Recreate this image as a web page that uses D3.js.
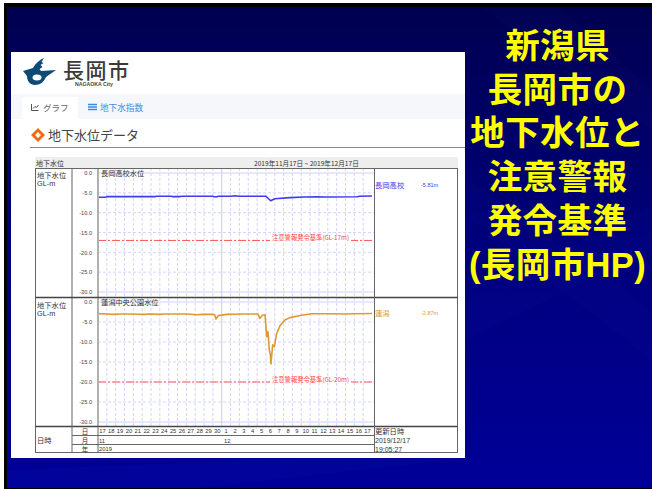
<!DOCTYPE html>
<html><head><meta charset="utf-8">
<script src="https://cdn.jsdelivr.net/npm/d3@7/dist/d3.min.js"></script>
<style>html,body{margin:0;padding:0;background:#fff}svg{display:block}
text{font-family:"Noto Sans CJK JP","Noto Sans",sans-serif}</style></head><body>
<svg id="c" width="652" height="490"></svg>
<script>
const titleLines=["新潟県","長岡市の","地下水位と","注意警報","発令基準","(長岡市HP)"];
const dayLabels=[17,18,19,20,21,22,23,24,25,26,27,28,29,30,1,2,3,4,5,6,7,8,9,10,11,12,13,14,15,16,17];
const yTicks=[0,-5,-10,-15,-20,-25,-30];
const blueDays=[0,0.9,1,6.5,6.6,8.3,8.4,9.3,9.4,13,13.1,13.5,13.6,15.1,15.5,15.9,19,19.53,20,21.7,23.4,24.8,25.6,26.2,29.3,29.6,31];
const blueLevels=[-6.1,-6.1,-5.95,-5.95,-5.85,-5.85,-5.95,-5.95,-5.85,-5.85,-6,-6,-5.85,-5.85,-5.75,-5.85,-5.85,-7,-6.5,-6.2,-6.05,-5.98,-6.05,-6.05,-5.98,-5.85,-5.81];
const orangeDays=[0,1,1.8,2.5,3.5,4.5,5.2,6,6.8,7.5,8.5,9.5,10.5,11,12,12.9,13.2,13.35,13.6,14.55,15.5,16.5,17.5,18.1,18.3,18.6,18.9,19.08,19.23,19.38,19.5,19.57,19.65,19.76,19.95,20.2,20.6,21.15,21.7,23,24.2,26,28,29,31];
const orangeLevels=[-2.9,-3,-3.1,-3,-3,-3.05,-3.1,-3,-3.1,-3,-3,-3,-3.05,-3.2,-3.1,-3.05,-3.2,-4.25,-3.4,-3.1,-3.05,-3,-3,-3,-4.1,-3.3,-3.2,-8.7,-7.4,-12,-13.2,-15.5,-13.5,-10.7,-11.2,-8,-5.9,-4.5,-3.9,-3.3,-2.95,-2.95,-3,-2.95,-2.87];
const blueLimit=-17, orangeLimit=-20;

const svg=d3.select("#c");
const defs=svg.append("defs");
const g=defs.append("linearGradient").attr("id","bg").attr("x1",0).attr("y1",0).attr("x2",0).attr("y2",1);
g.append("stop").attr("offset",0).attr("stop-color","#000050");
g.append("stop").attr("offset",.5).attr("stop-color","#00007c");
g.append("stop").attr("offset",1).attr("stop-color","#000098");
svg.append("rect").attr("x",4).attr("y",3).attr("width",648).attr("height",486).attr("fill","#000");
svg.append("rect").attr("x",7).attr("y",7).attr("width",645).attr("height",481).attr("fill","url(#bg)");
[["M480,7L560,7L652,90L652,130Z",.025],["M470,180L470,220L652,360L652,310Z",.025],["M7,470L7,488L200,488L465,458L300,458Z",.03],["M465,300L465,340L652,250L652,205Z",.02]].forEach(d=>
 svg.append("path").attr("d",d[0]).attr("fill","#4060ff").attr("opacity",d[1]));

// title
const title=svg.append("g").attr("text-anchor","middle").attr("fill","#ffff00").attr("font-weight",700).attr("font-size",34.5);
title.selectAll("text").data(titleLines).join("text").attr("x",557.5).attr("y",(d,i)=>58+i*43.7)
 .style("font-family",'"Liberation Sans","Noto Sans CJK JP"').style("letter-spacing","0.4px").text(d=>d);

// page panel
svg.append("rect").attr("x",11).attr("y",52).attr("width",454).attr("height",406).attr("fill","#fff");
svg.append("rect").attr("x",11).attr("y",94).attr("width",454).attr("height",25).attr("fill","#f6f7fb");
svg.append("rect").attr("x",22).attr("y",97).attr("width",56).attr("height",22).attr("fill","#fff");
svg.append("path").attr("d","M23,71L33,68C36,63 39,60 44,58L41.500,62L43.500,63L40.500,65L42.500,67L39.500,69L41,71L56,70L46,77C44,82 40,85 35,85C30,85 27,81 27,76Z").attr("fill","#0e4a78");
svg.append("ellipse").attr("cx",37).attr("cy",77.500).attr("rx",4.500).attr("ry",3).attr("fill","#fff");
const T=(x,y,s,size,fill,extra={})=>{const t=svg.append("text").attr("x",x).attr("y",y).attr("font-size",size).attr("fill",fill).attr("dominant-baseline","central").text(s);
 Object.entries(extra).forEach(([k,v])=>t.attr(k,v));return t;};
T(63,68.500,"長岡市",21,"#3a3a3a",{"font-weight":500}).style("letter-spacing","1.5px");
T(75,84,"NAGAOKA City",5.200,"#444",{"font-weight":700}).style("font-family","Liberation Sans");
svg.append("path").attr("d","M31.500,104V110.500H38.500M33,108.500L35,106.500L36.500,107.500L38.500,105").attr("fill","none").attr("stroke","#555").attr("stroke-width",1);
T(43,107,"グラフ",8.500,"#666");
svg.append("path").attr("d","M88,104.500H97M88,107H97M88,109.500H97").attr("stroke","#3b8de0").attr("stroke-width",1.300);
T(100,107,"地下水指数",8.600,"#3b8de0");
svg.append("path").attr("d","M38,128L45,135L38,142L31,135Z M38,132L35,135L38,138L41,135Z").attr("fill","#f26a10").attr("fill-rule","evenodd");
T(48,134.500,"地下水位データ",13,"#444");
svg.append("line").attr("x1",30).attr("x2",465).attr("y1",147.500).attr("y2",147.500).attr("stroke","#888");

// frame
const L=35.500,A=72,P=98,R=374,E=457.500,x=d3.scaleLinear().domain([0,31]).range([P,372]);
svg.append("rect").attr("x",35).attr("y",157).attr("width",423).attr("height",11).attr("fill","#eeeeee");
T(36,163,"地下水位",7,"#333");
T(254,163,"2019年11月17日 ~ 2019年12月17日",6.600,"#333");

function panel(top,bottom,y0,y30,name,days,levels,limit,color,site,val,siteY,limitText,labelY){
 const y=d3.scaleLinear().domain([0,-30]).range([y0,y30]);
 const G=svg.append("g");
 const grid=G.append("g").attr("fill","none");
 grid.selectAll(".v").data(d3.range(1,31)).join("line").attr("x1",x).attr("x2",x).attr("y1",top).attr("y2",bottom)
  .attr("stroke",d=>d===14?"#c8c8ff":"#d4d4ff").attr("stroke-dasharray",d=>d===14?null:"3,2");
 grid.selectAll(".h").data(yTicks).join("line").attr("x1",P).attr("x2",R).attr("y1",y).attr("y2",y)
  .attr("stroke",d=>d===0||d===-30?"#d0d0ff":"#d4d4ff").attr("stroke-dasharray",d=>d===0||d===-30?null:"3,2");
 G.append("line").attr("x1",P).attr("x2",R).attr("y1",y(limit)).attr("y2",y(limit)).attr("stroke","#ff5555").attr("stroke-dasharray","8,2,2,2");
 const lt=T(272,y(limit)-3,limitText,6.300,"#ff4444");
 const bb=lt.node().getBBox();
 G.append("rect").attr("x",270).attr("y",y(limit)-2).attr("width",bb.width+4).attr("height",3).attr("fill","#fff");
 lt.raise();
 const line=d3.line().x((d,i)=>x(days[i])).y(d=>y(d));
 G.append("path").attr("d",line(levels)).attr("fill","none").attr("stroke",color).attr("stroke-width",1.600).attr("stroke-linejoin","round");
 const ax=d3.axisLeft(y).tickValues(yTicks).tickSize(0).tickPadding(0).tickFormat(d=>d===0?"0.0":"-"+Math.abs(d).toFixed(1));
 const ag=svg.append("g").attr("transform",`translate(92,0)`).call(ax);
 ag.select(".domain").remove();
 ag.selectAll("text").attr("font-size",5.600).attr("fill","#444").style("font-family","Liberation Sans");
 T(101,labelY,name,7.200,"#333");
 T(37,top+7,"地下水位",7.300,"#333");
 T(37,top+15,"GL-m",7.300,"#333").style("font-family","Liberation Sans");
 T(375,siteY,site,7.300,color);
 T(421,siteY,val,5.500,color).style("font-family","Liberation Sans");
 [A,P].forEach(v=>svg.append("line").attr("x1",v).attr("x2",v).attr("y1",top).attr("y2",bottom).attr("stroke","#b0b0b0").attr("stroke-width",2));
}
panel(168,297,173,292,"長岡高校水位",blueDays,blueLevels,blueLimit,"#3c3cec","長岡高校","-5.81m",185,"注意警報発令基準(GL-17m)",173);
panel(298,426,302,422,"蓮潟中央公園水位",orangeDays,orangeLevels,orangeLimit,"#db9a32","蓮潟","-2.87m",313,"注意警報発令基準(GL-20m)",302);

const st="#666";
const ln=(x1,y1,x2,y2,w=1,c=st)=>svg.append("line").attr("x1",x1).attr("y1",y1).attr("x2",x2).attr("y2",y2).attr("stroke",c).attr("stroke-width",w);
svg.append("rect").attr("x",L).attr("y",168.500).attr("width",E-L).attr("height",284).attr("fill","none").attr("stroke",st);
ln(L,297.500,E,297.500,1.600,"#444");ln(L,426.500,E,426.500,1.600,"#444");
ln(R+.5,168,R+.5,453);ln(A,426,A,453);ln(P,426,P,453,1);
ln(A,435.500,R,435.500);ln(A,444.500,R,444.500);
T(37,440,"日時",7.300,"#333");
[["日",431],["月",440],["年",449]].forEach(d=>T(85,d[1],d[0],6.500,"#333",{"text-anchor":"middle"}));
svg.append("g").selectAll("text").data(dayLabels).join("text").attr("x",(d,i)=>x(i+.5)).attr("y",431).attr("text-anchor","middle").attr("dominant-baseline","central")
 .attr("font-size",5.800).attr("fill","#333").style("font-family","Liberation Sans").text(d=>d);
T(99,440.500,"11",5.800,"#333").style("font-family","Liberation Sans");
T(224,440.500,"12",5.800,"#333").style("font-family","Liberation Sans");
T(99,449,"2019",5.800,"#333").style("font-family","Liberation Sans");
T(375,431,"更新日時",7.300,"#333");
T(375,440.500,"2019/12/17",7,"#333").style("font-family","Liberation Sans");
T(375,449.500,"19:05:27",7,"#333").style("font-family","Liberation Sans");
</script></body></html>
